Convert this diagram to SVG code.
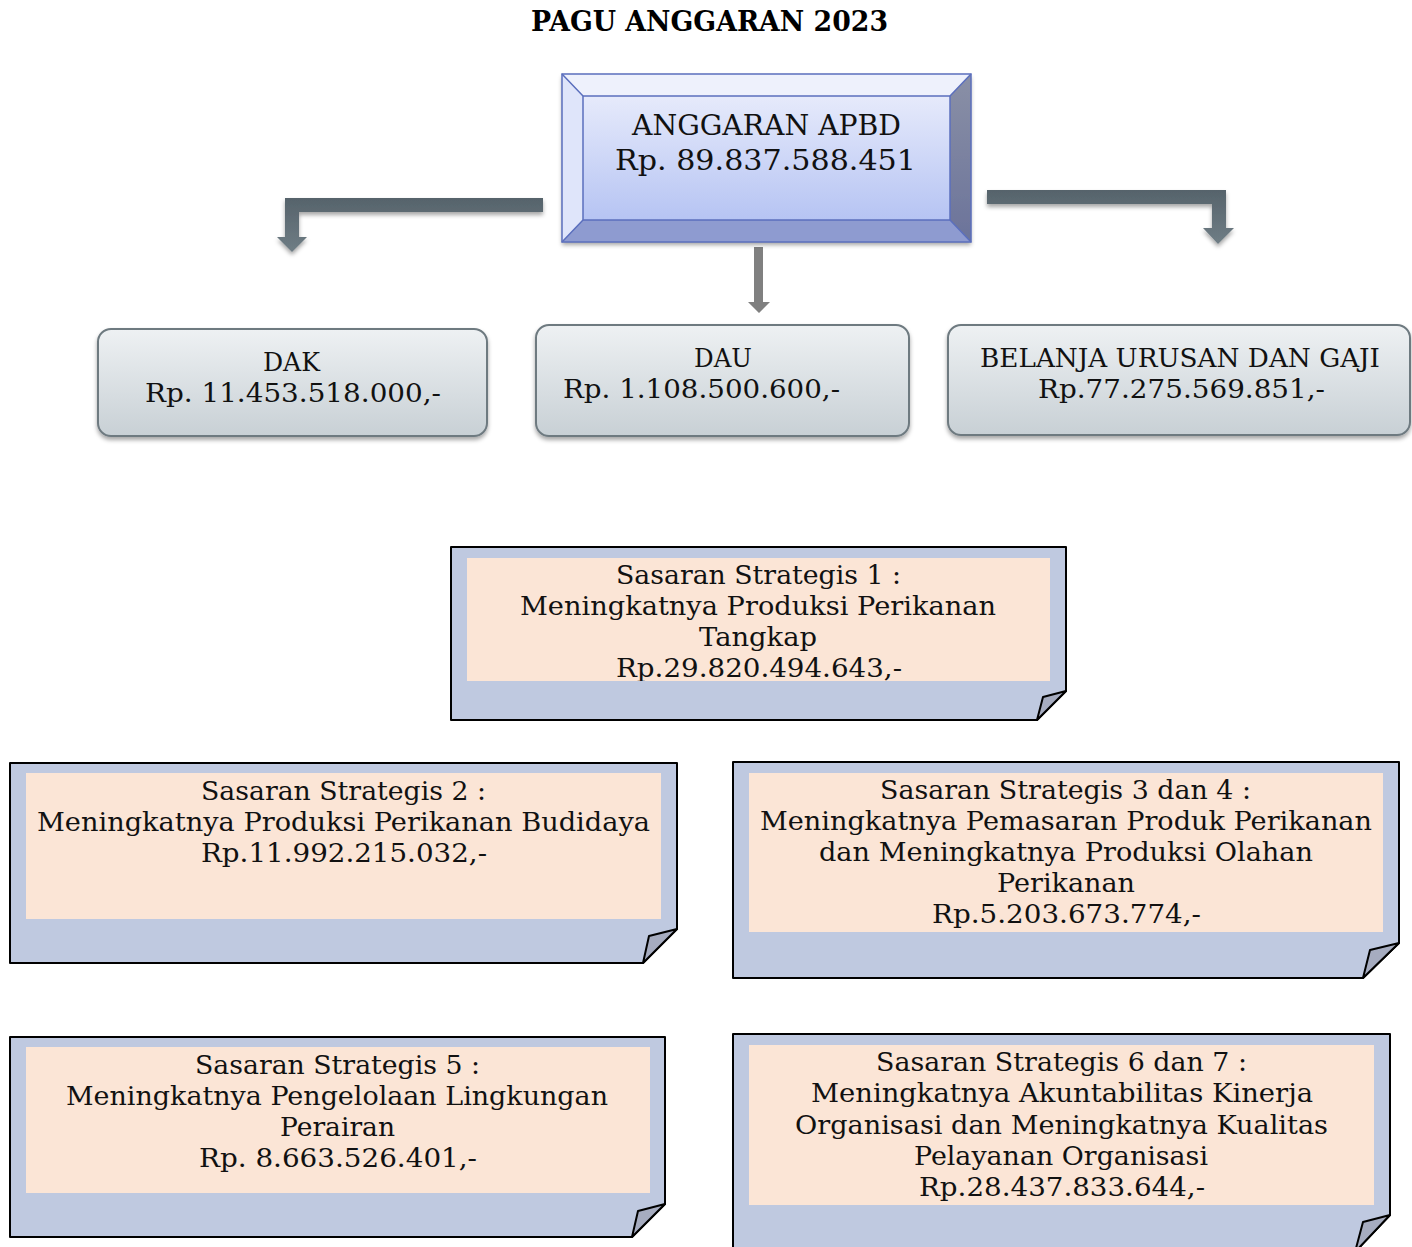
<svg xmlns="http://www.w3.org/2000/svg" width="1412" height="1247" viewBox="0 0 1412 1247">
<style>
.t{font-family:"DejaVu Serif","Liberation Serif",serif;font-size:26px;fill:#111;text-anchor:middle}
.tb{font-family:"DejaVu Serif","Liberation Serif",serif;font-size:27px;font-weight:bold;fill:#000;text-anchor:middle}
.grey{fill:url(#gGrey);stroke:#6e7a80;stroke-width:2;filter:url(#sh)}
.note{fill:#bfc9e0;stroke:#000;stroke-width:2;stroke-linejoin:round}
.peach{fill:#fbe5d6}
.flap{fill:#a6acc0;stroke:#000;stroke-width:2;stroke-linejoin:round}
.elbow{fill:url(#gElbow);filter:url(#sh)}
</style>
<defs>
<linearGradient id="gGrey" x1="0" y1="0" x2="0" y2="1"><stop offset="0" stop-color="#eef1f3"/><stop offset="1" stop-color="#c8d0d5"/></linearGradient>
<linearGradient id="gFace" x1="0" y1="0" x2="0" y2="1"><stop offset="0" stop-color="#e6eafb"/><stop offset="1" stop-color="#b6c4f3"/></linearGradient>
<linearGradient id="gRight" x1="0" y1="0" x2="0" y2="1"><stop offset="0" stop-color="#8a90a6"/><stop offset="1" stop-color="#6b739a"/></linearGradient>
<linearGradient id="gElbow" x1="0" y1="0" x2="0" y2="1"><stop offset="0" stop-color="#56636b"/><stop offset="1" stop-color="#6f7d85"/></linearGradient>
<filter id="sh" x="-10%" y="-20%" width="120%" height="150%"><feDropShadow dx="0" dy="3" stdDeviation="2" flood-color="#000" flood-opacity="0.35"/></filter>
<clipPath id="c1"><rect x="467" y="558" width="583" height="123"/></clipPath>
</defs>

<text class="tb" x="709.5" y="31" textLength="357" lengthAdjust="spacingAndGlyphs">PAGU ANGGARAN 2023</text>

<g id="connectors">
<polygon class="elbow" points="543,198 285,198 285,237 277,237 292,252 307,237 299,237 299,212 543,212"/>
<polygon class="elbow" points="987,190 1226,190 1226,228 1234,228 1218,244 1203,228 1212,228 1212,204 987,204"/>
<polygon fill="#808080" points="754,247 763,247 763,302 770,302 759,313 748,302 754,302"/>
</g>

<g id="apbd">
<g filter="url(#sh)">
<rect x="562" y="74" width="409" height="168" fill="url(#gFace)"/>
<polygon points="562,74 971,74 950,96 583,96" fill="#eef1fc"/>
<polygon points="562,74 583,96 583,220 562,242" fill="#dfe5fa"/>
<polygon points="971,74 971,242 950,220 950,96" fill="url(#gRight)"/>
<polygon points="562,242 583,220 950,220 971,242" fill="#8e9bd0"/>
<rect x="583" y="96" width="367" height="124" fill="url(#gFace)"/>
</g>
<g fill="none" stroke="#5b6fbd" stroke-width="1.5">
<rect x="562" y="74" width="409" height="168"/>
<rect x="583" y="96" width="367" height="124"/>
<path d="M562,74 L583,96 M971,74 L950,96 M562,242 L583,220 M971,242 L950,220"/>
</g>
<text class="t" style="font-size:28px" x="766.5" y="135" textLength="269" lengthAdjust="spacingAndGlyphs">ANGGARAN APBD</text>
<text class="t" style="font-size:28px" x="765.5" y="170" textLength="301" lengthAdjust="spacingAndGlyphs">Rp. 89.837.588.451</text>
</g>

<g id="dak">
<rect class="grey" x="98" y="329" width="389" height="107" rx="13"/>
<text class="t" x="291.5" y="371" textLength="57" lengthAdjust="spacingAndGlyphs">DAK</text>
<text class="t" x="293" y="402" textLength="296" lengthAdjust="spacingAndGlyphs">Rp. 11.453.518.000,-</text>
</g>

<g id="dau">
<rect class="grey" x="536" y="325" width="373" height="111" rx="13"/>
<text class="t" x="723" y="367" textLength="58" lengthAdjust="spacingAndGlyphs">DAU</text>
<text class="t" x="701.5" y="398" textLength="277" lengthAdjust="spacingAndGlyphs">Rp. 1.108.500.600,-</text>
</g>

<g id="belanja">
<rect class="grey" x="948" y="325" width="462" height="110" rx="13"/>
<text class="t" x="1180" y="367" textLength="400" lengthAdjust="spacingAndGlyphs">BELANJA URUSAN DAN GAJI</text>
<text class="t" x="1181.5" y="398" textLength="287" lengthAdjust="spacingAndGlyphs">Rp.77.275.569.851,-</text>
</g>

<g id="ss1">
<path class="note" d="M451,547 H1066 V691 L1037,720 H451 Z"/>
<rect class="peach" x="467" y="558" width="583" height="123"/>
<polygon class="flap" points="1066,691 1043,697 1037,720"/>
<g clip-path="url(#c1)">
<text class="t" x="758.5" y="584" textLength="285" lengthAdjust="spacingAndGlyphs">Sasaran Strategis 1 :</text>
<text class="t" x="758" y="615" textLength="476" lengthAdjust="spacingAndGlyphs">Meningkatnya Produksi Perikanan</text>
<text class="t" x="758" y="646" textLength="118" lengthAdjust="spacingAndGlyphs">Tangkap</text>
<text class="t" x="759" y="677" textLength="286" lengthAdjust="spacingAndGlyphs">Rp.29.820.494.643,-</text>
</g>
</g>

<g id="ss2">
<path class="note" d="M10,763 H677 V929 L643,963 H10 Z"/>
<rect class="peach" x="26" y="773" width="635" height="146"/>
<polygon class="flap" points="677,929 649,936 643,963"/>
<text class="t" x="343.5" y="800" textLength="285" lengthAdjust="spacingAndGlyphs">Sasaran Strategis 2 :</text>
<text class="t" x="343.5" y="831" textLength="613" lengthAdjust="spacingAndGlyphs">Meningkatnya Produksi Perikanan Budidaya</text>
<text class="t" x="344" y="862" textLength="286" lengthAdjust="spacingAndGlyphs">Rp.11.992.215.032,-</text>
</g>

<g id="ss34">
<path class="note" d="M733,762 H1399 V943 L1363,978 H733 Z"/>
<rect class="peach" x="749" y="773" width="634" height="159"/>
<polygon class="flap" points="1399,943 1370,950 1363,978"/>
<text class="t" x="1065.5" y="799" textLength="371" lengthAdjust="spacingAndGlyphs">Sasaran Strategis 3 dan 4 :</text>
<text class="t" x="1066" y="830" textLength="612" lengthAdjust="spacingAndGlyphs">Meningkatnya Pemasaran Produk Perikanan</text>
<text class="t" x="1066" y="861" textLength="494" lengthAdjust="spacingAndGlyphs">dan Meningkatnya Produksi Olahan</text>
<text class="t" x="1066" y="892" textLength="138" lengthAdjust="spacingAndGlyphs">Perikanan</text>
<text class="t" x="1066.5" y="923" textLength="269" lengthAdjust="spacingAndGlyphs">Rp.5.203.673.774,-</text>
</g>

<g id="ss5">
<path class="note" d="M10,1037 H665 V1204 L632,1237 H10 Z"/>
<rect class="peach" x="26" y="1047" width="624" height="146"/>
<polygon class="flap" points="665,1204 638,1211 632,1237"/>
<text class="t" x="337.5" y="1074" textLength="285" lengthAdjust="spacingAndGlyphs">Sasaran Strategis 5 :</text>
<text class="t" x="337" y="1105" textLength="542" lengthAdjust="spacingAndGlyphs">Meningkatnya Pengelolaan Lingkungan</text>
<text class="t" x="337.5" y="1136" textLength="115" lengthAdjust="spacingAndGlyphs">Perairan</text>
<text class="t" x="338" y="1167" textLength="278" lengthAdjust="spacingAndGlyphs">Rp. 8.663.526.401,-</text>
</g>

<g id="ss67">
<path class="note" d="M733,1034 H1390 V1215 L1355,1252 H733 Z"/>
<rect class="peach" x="749" y="1045" width="625" height="160"/>
<polygon class="flap" points="1390,1215 1363,1222 1355,1252"/>
<text class="t" x="1061.5" y="1071" textLength="371" lengthAdjust="spacingAndGlyphs">Sasaran Strategis 6 dan 7 :</text>
<text class="t" x="1062" y="1102" textLength="502" lengthAdjust="spacingAndGlyphs">Meningkatnya Akuntabilitas Kinerja</text>
<text class="t" x="1061.5" y="1134" textLength="533" lengthAdjust="spacingAndGlyphs">Organisasi dan Meningkatnya Kualitas</text>
<text class="t" x="1061" y="1165" textLength="294" lengthAdjust="spacingAndGlyphs">Pelayanan Organisasi</text>
<text class="t" x="1062" y="1196" textLength="286" lengthAdjust="spacingAndGlyphs">Rp.28.437.833.644,-</text>
</g>
</svg>
